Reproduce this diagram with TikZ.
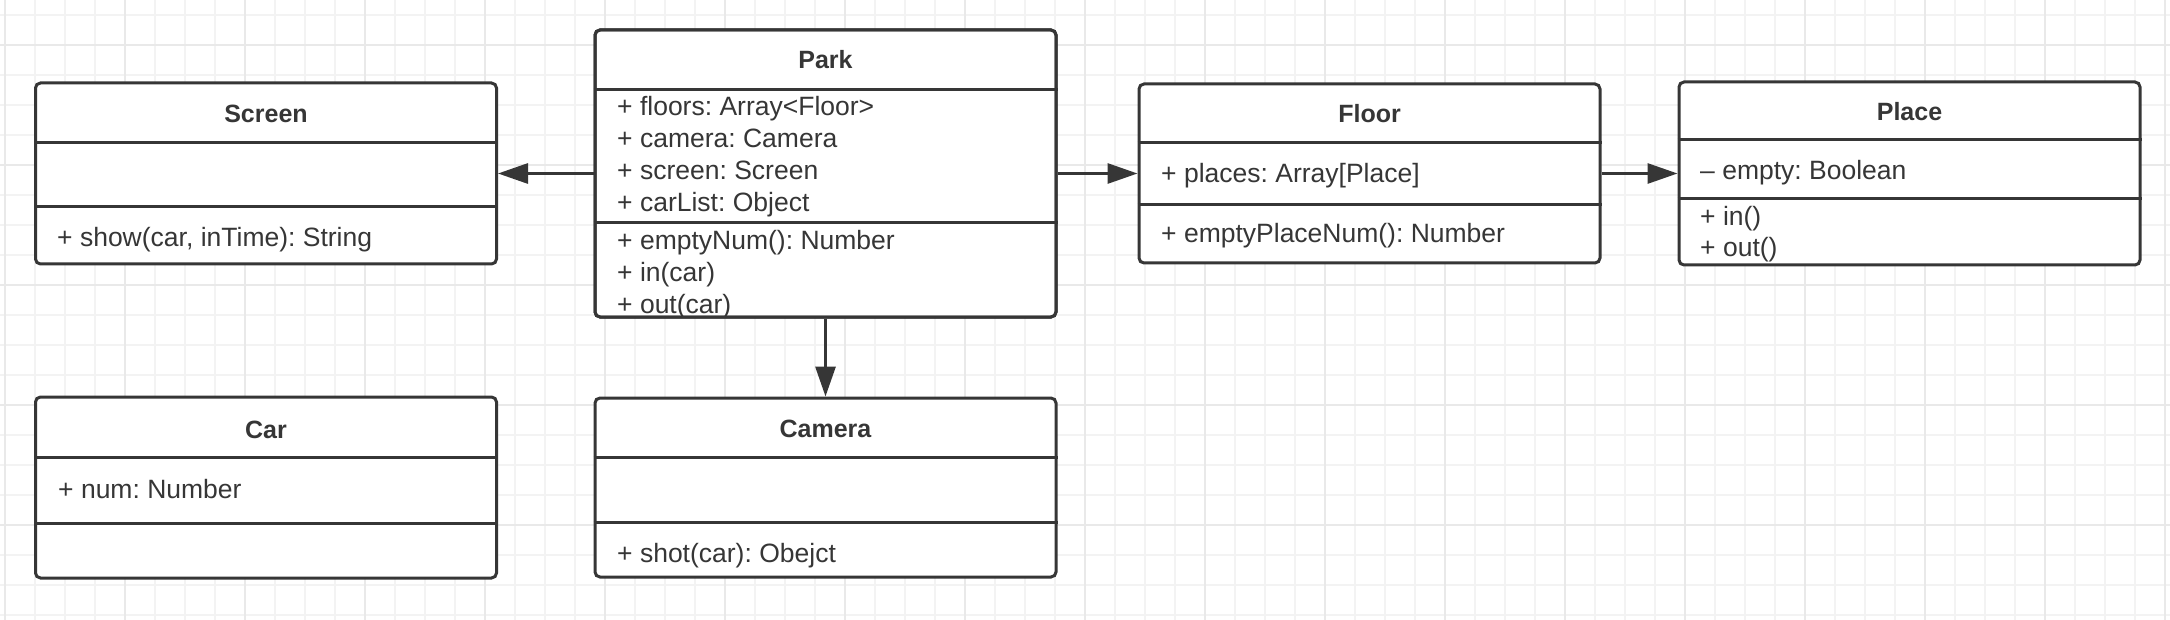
\documentclass[tikz,border=0pt]{standalone}
\usepackage{fontspec}
\setmainfont{Liberation Sans}
\frenchspacing
\usetikzlibrary{arrows.meta}
\definecolor{ink}{HTML}{363636}
\definecolor{gridminor}{HTML}{F3F3F3}
\definecolor{gridmajor}{HTML}{E9E9E9}
\begin{document}
\begin{tikzpicture}[x=1pt,y=-1pt,
  umlbox/.style={draw=ink, line width=3pt, rounded corners=5pt, fill=white, rectangle, inner sep=0pt, minimum width=461pt},
  divider/.style={draw=ink, line width=3pt},
  classtitle/.style={font=\fontsize{25}{30}\selectfont\bfseries, text=ink, anchor=base, inner sep=0pt},
  member/.style={font=\fontsize{26.5}{32}\selectfont, text=ink, anchor=base west, inner sep=0pt},
  assoc/.style={draw=ink, line width=3pt, -{Triangle[length=30pt,width=20pt]}},
  gminor/.style={draw=gridminor, line width=1.4pt},
  gmajor/.style={draw=gridmajor, line width=1.6pt},
]
\frenchspacing
\useasboundingbox (0,0) rectangle (2170,620);
\fill[white] (0,0) rectangle (2170,620);
% grid
\foreach \gx in {5,35,...,2170} \draw[gminor] (\gx,0) -- (\gx,620);
\foreach \gy in {15,45,...,620} \draw[gminor] (0,\gy) -- (2170,\gy);
\foreach \gx in {5,125,...,2170} \draw[gmajor] (\gx,0) -- (\gx,620);
\foreach \gy in {45,165,...,620} \draw[gmajor] (0,\gy) -- (2170,\gy);

% Screen
\node[umlbox, minimum height=181pt] (screen) at (266,173.5) {};
\draw[divider] (screen.west |- 0,143) -- (screen.east |- 0,143);
\draw[divider] (screen.west |- 0,207) -- (screen.east |- 0,207);
\node[classtitle] (screenT) at (266,122.5) {Screen};
\node[member] (screenM1) at (57,246.5) {+ show(car, inTime): String};

% Park
\node[umlbox, minimum height=287pt] (park) at (825.5,173.5) {};
\draw[divider] (park.west |- 0,90) -- (park.east |- 0,90);
\draw[divider] (park.west |- 0,223) -- (park.east |- 0,223);
\node[classtitle] (parkT) at (825.5,68.3) {Park};
\begin{scope}
\clip (596.5,31.5) rectangle (1054.5,315.2);
\node[member] (parkA1) at (617,116) {+ floors: Array<Floor>};
\node[member] (parkA2) at (617,147.7) {+ camera: Camera};
\node[member] (parkA3) at (617,180) {+ screen: Screen};
\node[member] (parkA4) at (617,211.7) {+ carList: Object};
\node[member] (parkM1) at (617,250) {+ emptyNum(): Number};
\node[member] (parkM2) at (617,281.7) {+ in(car)};
\node[member] (parkM3) at (617,313.3) {+ out(car)};
\end{scope}
\draw[draw=ink, line width=3pt, rounded corners=5pt] (park.north west) ++(1.5,1.5) rectangle ([shift={(-1.5,-1.5)}]park.south east);

% Floor
\node[umlbox, minimum height=179pt] (floor) at (1369.5,173.5) {};
\draw[divider] (floor.west |- 0,143) -- (floor.east |- 0,143);
\draw[divider] (floor.west |- 0,205) -- (floor.east |- 0,205);
\node[classtitle] (floorT) at (1369.5,122.7) {Floor};
\node[member] (floorA1) at (1161,182.7) {+ places: Array[Place]};
\node[member] (floorM1) at (1161,242.7) {+ emptyPlaceNum(): Number};

% Place
\node[umlbox, minimum height=183pt] (place) at (1909.5,173.5) {};
\draw[divider] (place.west |- 0,140) -- (place.east |- 0,140);
\draw[divider] (place.west |- 0,199) -- (place.east |- 0,199);
\node[classtitle] (placeT) at (1909.5,120.7) {Place};
\node[member] (placeA1) at (1700,179.3) {– empty: Boolean};
\node[member] (placeM1) at (1700,225.7) {+ in()};
\node[member] (placeM2) at (1700,256.7) {+ out()};

% Car
\node[umlbox, minimum height=181pt] (car) at (266,487.5) {};
\draw[divider] (car.west |- 0,457) -- (car.east |- 0,457);
\draw[divider] (car.west |- 0,523) -- (car.east |- 0,523);
\node[classtitle] (carT) at (266,438.3) {Car};
\node[member] (carA1) at (58,498.3) {+ num: Number};

% Camera
\node[umlbox, minimum height=179pt] (camera) at (825.5,487.5) {};
\draw[divider] (camera.west |- 0,457) -- (camera.east |- 0,457);
\draw[divider] (camera.west |- 0,522) -- (camera.east |- 0,522);
\node[classtitle] (cameraT) at (825.5,437.7) {Camera};
\node[member] (cameraM1) at (617,562.3) {+ shot(car): Obejct};

% associations
\draw[assoc] (park.west) -- (screen.east);
\draw[assoc] (park.east) -- (floor.west);
\draw[assoc] (floor.east) -- (place.west);
\draw[assoc] (park.south) -- (camera.north);
\end{tikzpicture}
\end{document}
